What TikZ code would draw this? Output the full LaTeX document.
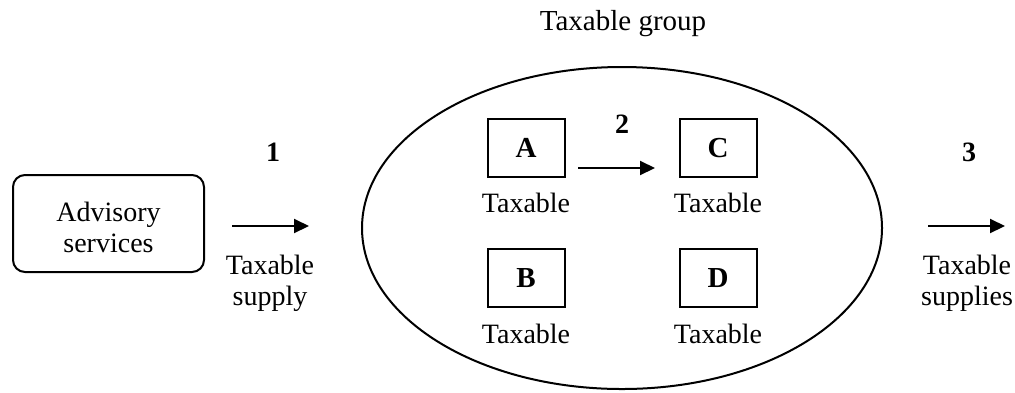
\documentclass[tikz,border=0pt]{standalone}
\usepackage{fontspec}
\setmainfont{Liberation Serif}
\usetikzlibrary{arrows.meta}
\tikzset{
  lbl/.style={inner sep=0pt, font=\fontsize{14}{15.5}\selectfont},
  num/.style={inner sep=0pt, font=\fontsize{14}{15.5}\selectfont\bfseries},
  entity/.style={draw, line width=1pt, minimum width=38.5pt, minimum height=29pt, inner sep=0pt, font=\fontsize{14.5}{15.5}\selectfont\bfseries},
  flow/.style={line width=1pt, -{Triangle[length=7.5pt,width=7pt]}},
}
\begin{document}
\begin{tikzpicture}[x=0.5pt,y=-0.5pt]
\useasboundingbox (0,0) rectangle (1015,392);
% advisory box
\node[draw, line width=1pt, rounded corners=6pt, minimum width=95.5pt, minimum height=48.5pt, inner sep=0pt] (adv) at (108.5,223.5) {};
\node[lbl, align=center] (advtxt) at (108.5,227) {Advisory\\services};
% group ellipse
\draw[line width=1pt] (622,228) ellipse [x radius=260, y radius=161];
\node[lbl, anchor=base, font=\fontsize{14.5}{15.5}\selectfont] (grp) at (623,30) {Taxable group};
% entities
\node[entity] (A) at (526,148) {A};
\node[entity] (C) at (718,148) {C};
\node[entity] (B) at (526,278) {B};
\node[entity] (D) at (718,278) {D};
\node[lbl, anchor=base] (tA) at (526,212) {Taxable};
\node[lbl, anchor=base] (tC) at (718,212) {Taxable};
\node[lbl, anchor=base] (tB) at (526,343) {Taxable};
\node[lbl, anchor=base] (tD) at (718,343) {Taxable};
% flow 1
\coordinate (f1s) at (232,226);
\coordinate (f1e) at (309,226);
\draw[flow] (f1s) -- (f1e);
\node[num, anchor=base] (n1) at (273,161) {1};
\node[lbl, align=center] (s1) at (270,283) {Taxable\\supply};
% flow 2
\coordinate (f2s) at (578,168);
\coordinate (f2e) at (655,168);
\draw[flow] (f2s) -- (f2e);
\node[num, anchor=base] (n2) at (622,133) {2};
% flow 3
\coordinate (f3s) at (928,226);
\coordinate (f3e) at (1005,226);
\draw[flow] (f3s) -- (f3e);
\node[num, anchor=base] (n3) at (969,161) {3};
\node[lbl, align=center] (s3) at (967,283) {Taxable\\supplies};
\end{tikzpicture}
\end{document}
